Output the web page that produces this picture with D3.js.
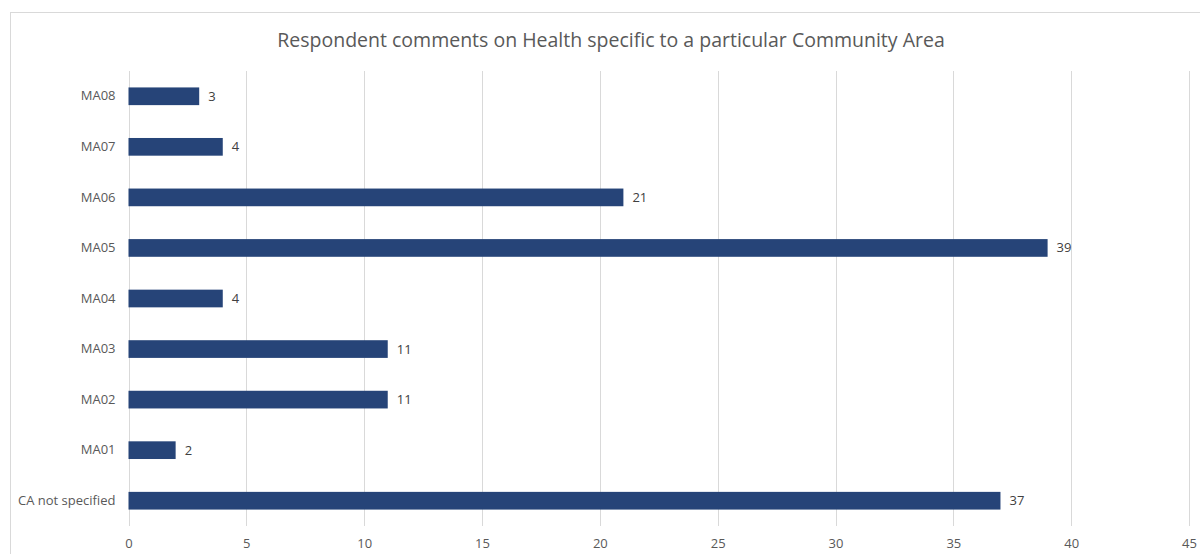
<!DOCTYPE html>
<html>
<head>
<meta charset="utf-8">
<script src="https://cdn.jsdelivr.net/npm/d3@7"></script>
<style>
  html, body { margin: 0; padding: 0; background: #fff; }
  svg { display: block; font-family: "Open Sans", "Liberation Sans", sans-serif; }
</style>
</head>
<body>
<svg id="chart" width="1200" height="554"></svg>
<script>
// Comment counts per community area (top to bottom as drawn)
const categories = ["MA08", "MA07", "MA06", "MA05", "MA04", "MA03", "MA02", "MA01", "CA not specified"];
const counts = [3, 4, 21, 39, 4, 11, 11, 2, 37];
const xTicks = [0, 5, 10, 15, 20, 25, 30, 35, 40, 45];
const title = "Respondent comments on Health specific to a particular Community Area";

const svg = d3.select("#chart");
const textColor = "#595959";
const barColor = "#264478";

// chart frame
svg.append("rect")
  .attr("x", 10.5).attr("y", 12.5)
  .attr("width", 1200).attr("height", 560)
  .attr("fill", "#fff")
  .attr("stroke", "#d9d9d9").attr("stroke-width", 1);

const plot = { left: 128.5, right: 1189, top: 71, bottom: 526 };

const x = d3.scaleLinear().domain([0, 45]).range([plot.left, plot.right]);
const y = d3.scaleBand().domain(categories).range([plot.top, plot.bottom]).paddingInner(0.65).paddingOuter(0.325);

// vertical gridlines
svg.append("g")
  .selectAll("line")
  .data(xTicks)
  .join("line")
  .attr("x1", d => Math.round(x(d)) + 0.5).attr("x2", d => Math.round(x(d)) + 0.5)
  .attr("y1", plot.top).attr("y2", plot.bottom)
  .attr("stroke", "#d9d9d9").attr("stroke-width", 1);

// x axis tick labels
const xAxis = d3.axisBottom(x).tickValues(xTicks).tickSize(0).tickPadding(0);
const gx = svg.append("g")
  .attr("transform", `translate(0, ${plot.bottom + 13})`)
  .call(xAxis);
gx.select(".domain").remove();
gx.selectAll("text")
  .attr("fill", textColor)
  .attr("font-size", 13)
  .attr("font-family", "\"Open Sans\", sans-serif");

// y axis category labels
const yAxis = d3.axisLeft(y).tickSize(0).tickPadding(13);
const gy = svg.append("g")
  .attr("transform", `translate(${plot.left}, 0)`)
  .call(yAxis);
gy.select(".domain").remove();
gy.selectAll("text")
  .attr("fill", textColor)
  .attr("font-size", 13)
  .attr("font-family", "\"Open Sans\", sans-serif");

// bars
svg.append("g")
  .selectAll("rect")
  .data(categories)
  .join("rect")
  .attr("x", x(0))
  .attr("y", d => y(d))
  .attr("width", (d, i) => x(counts[i]) - x(0))
  .attr("height", y.bandwidth())
  .attr("fill", barColor);

// value labels
svg.append("g")
  .selectAll("text")
  .data(categories)
  .join("text")
  .attr("x", (d, i) => x(counts[i]) + 9)
  .attr("y", d => y(d) + y.bandwidth() / 2)
  .attr("dy", "0.35em")
  .attr("fill", "#404040")
  .attr("font-size", 13)
  .text((d, i) => counts[i]);

// title
svg.append("text")
  .attr("x", 611)
  .attr("y", 47)
  .attr("text-anchor", "middle")
  .attr("fill", textColor)
  .attr("font-size", 19.5)
  .text(title);
</script>
</body>
</html>
